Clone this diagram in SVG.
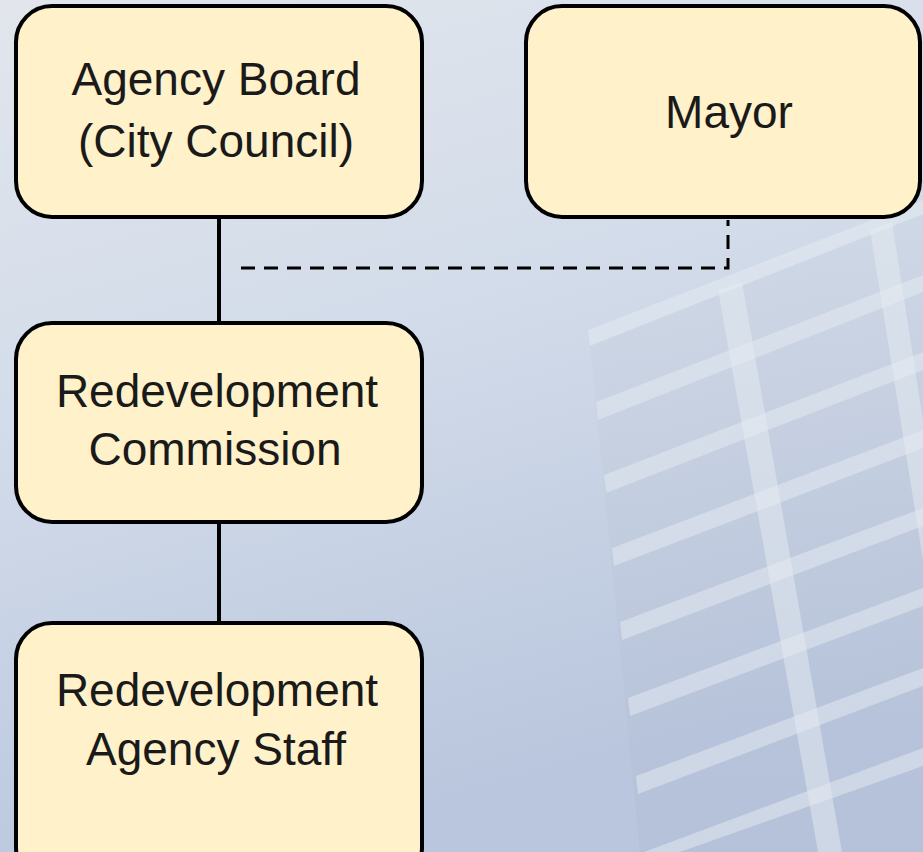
<svg xmlns="http://www.w3.org/2000/svg" width="923" height="852" viewBox="0 0 923 852">
  <defs>
    <linearGradient id="bg" x1="0" y1="0" x2="0.3" y2="1">
      <stop offset="0" stop-color="#e2e6ec"/>
      <stop offset="0.45" stop-color="#d3dcea"/>
      <stop offset="1" stop-color="#b9c6dd"/>
    </linearGradient>
    <linearGradient id="bld" x1="0" y1="0" x2="0" y2="1">
      <stop offset="0" stop-color="#cbd3df"/>
      <stop offset="1" stop-color="#aeb9d2"/>
    </linearGradient>
    <style>
      .box { fill: #fff1c9; stroke: #000; stroke-width: 4; }
      .lbl { font-family: "Liberation Sans", Arial, sans-serif; font-size: 46px; fill: #1a1a1a; text-anchor: middle; }
      .solid { stroke: #000; stroke-width: 4; fill: none; }
      .dash { stroke: #000; stroke-width: 3; fill: none; stroke-dasharray: 14 9; }
      .floor { fill: #e6ebf2; opacity: 0.5; }
      .win { fill: url(#bld); opacity: 0.35; }
    </style>
  </defs>

  <rect x="0" y="0" width="923" height="852" fill="url(#bg)"/>

  <!-- faint building facade -->
  <g id="building">
    <polygon class="win" points="590,345 923,215 923,852 640,852"/>
    <polygon class="floor" points="588,330 923,200 923,214 590,346"/>
    <polygon class="floor" points="596,402 923,275 923,292 598,420"/>
    <polygon class="floor" points="604,475 923,352 923,370 606,493"/>
    <polygon class="floor" points="612,548 923,430 923,448 614,566"/>
    <polygon class="floor" points="620,622 923,508 923,526 622,640"/>
    <polygon class="floor" points="628,698 923,588 923,606 630,716"/>
    <polygon class="floor" points="636,776 923,668 923,686 638,794"/>
    <polygon class="floor" points="644,852 923,748 923,766 680,852"/>
    <polygon class="floor" points="718,290 742,282 842,852 818,852"/>
    <polygon class="floor" points="870,230 892,222 923,420 923,560"/>
  </g>

  <g id="connectors">
    <line class="solid" x1="219" y1="218" x2="219" y2="323"/>
    <line class="solid" x1="219" y1="522" x2="219" y2="623"/>
    <polyline class="dash" points="241,268 728,268 728,220"/>
  </g>

  <g id="agency-board">
    <rect class="box" x="16" y="6" width="406" height="211" rx="36" ry="36"/>
    <text class="lbl" x="216" y="95">Agency Board</text>
    <text class="lbl" x="216" y="157">(City Council)</text>
  </g>

  <g id="mayor">
    <rect class="box" x="526" y="6" width="394" height="211" rx="36" ry="36"/>
    <text class="lbl" x="729" y="128">Mayor</text>
  </g>

  <g id="commission">
    <rect class="box" x="16" y="323" width="406" height="199" rx="36" ry="36"/>
    <text class="lbl" x="217" y="407">Redevelopment</text>
    <text class="lbl" x="215" y="465">Commission</text>
  </g>

  <g id="staff">
    <rect class="box" x="16" y="623" width="406" height="260" rx="36" ry="36"/>
    <text class="lbl" x="217" y="706">Redevelopment</text>
    <text class="lbl" x="216" y="765">Agency Staff</text>
  </g>
</svg>
